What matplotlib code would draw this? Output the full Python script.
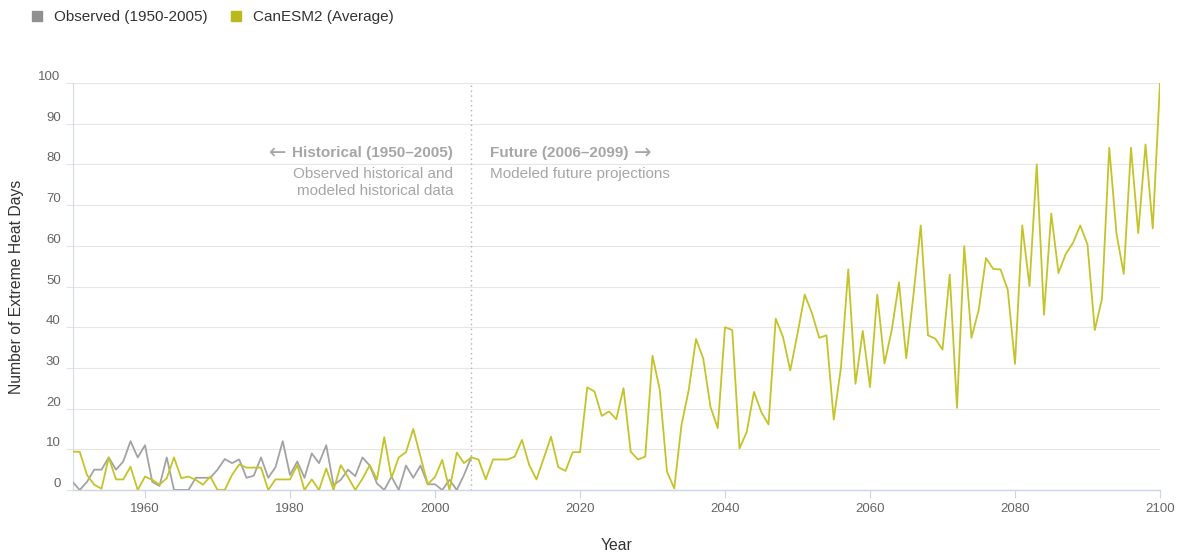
import matplotlib
matplotlib.use('Agg')
import numpy as np
import matplotlib.pyplot as plt
from matplotlib.lines import Line2D

obs_years = np.arange(1950, 2006)
observed = [2, 0, 2, 5, 5, 8, 5, 7, 12, 8,
            11, 2, 1, 8, 0, 0, 0, 3, 3, 3,
            5, 7.6, 6.6, 7.5, 3, 3.5, 8, 3, 5.6, 12,
            3.7, 7, 3, 9, 6.6, 11, 1.2, 2.5, 5, 3.4,
            8, 6, 1.6, 0, 3.3, 0, 6, 3, 6, 1.4,
            1.4, 0, 2.5, 0, 3.7, 8]

model_years = np.arange(1950, 2101)
canesm2 = [9.4, 9.4, 3.7, 1.3, 0.3, 8, 2.6, 2.6, 5.7, 0,
           3.3, 2.5, 1.3, 2.9, 8, 2.9, 3.3, 2.5, 1.3, 3.3,
           0, 0, 3.7, 6.3, 5.5, 5.5, 5.5, 0, 2.6, 2.6,
           2.6, 6.1, 0, 2.6, 0, 5.3, 0, 6.1, 3.2, 0,
           2.8, 6.1, 2.6, 13, 3, 8, 9.3, 15, 8.2, 1.4,
           3.2, 7.4, 0, 9.2, 6.6, 8, 7.5, 2.6, 7.5, 7.5,
           7.5, 8.2, 12.3, 6.1, 2.6, 7.8, 13.1, 5.6, 4.7, 9.3,
           9.3, 25.2, 24.2, 18.2, 19.3, 17.4, 25, 9.4, 7.5, 8.2,
           33, 24.6, 4.5, 0.4, 16, 24.6, 37.1, 32.3, 20.4, 15.2,
           40, 39.3, 10.2, 14.3, 24.1, 19.2, 16.1, 42.1, 37.6, 29.4,
           38.4, 48, 43.4, 37.4, 38, 17.3, 30.2, 54.2, 26.1, 39.1,
           25.3, 48, 31.1, 39.3, 51, 32.4, 48, 65, 38, 37.2,
           34.5, 52.9, 20.2, 59.9, 37.4, 44.3, 57, 54.3, 54.2, 49.2,
           31, 65, 50.1, 80, 43.1, 67.9, 53.3, 58, 60.7, 65,
           60.3, 39.3, 47, 84.1, 63, 53.1, 84.1, 63.1, 84.9, 64.3,
           100]

x_ticks = [1960, 1980, 2000, 2020, 2040, 2060, 2080, 2100]
y_ticks = list(range(0, 101, 10))
split_year = 2005

obs_color = '#a3a3a3'
model_color = '#c4c42a'

plt.rcParams['font.family'] = ['Liberation Sans', 'DejaVu Sans']

fig = plt.figure(figsize=(11.79, 5.56), dpi=100)
ax = fig.add_axes([72.5 / 1179, 1 - 490 / 556, (1160 - 72.5) / 1179, (490 - 83) / 556])

ax.plot(obs_years, observed, color=obs_color, lw=1.3, zorder=3)
ax.plot(model_years, canesm2, color=model_color, lw=1.3, zorder=4)

ax.axvline(split_year, color='#b0b0b0', lw=1, ls=(0, (1, 2.5)), zorder=2)

ax.set_xlim(1950, 2100)
ax.set_ylim(0, 100)
ax.set_xticks(x_ticks)
ax.set_yticks(y_ticks)
ax.grid(axis='y', color='#e6e6e6', lw=0.8, zorder=0)
ax.set_axisbelow(True)

for s in ['top', 'right']:
    ax.spines[s].set_visible(False)
ax.spines['bottom'].set_color('#ccd6eb')
ax.spines['left'].set_color('#d5dbe6')
ax.spines['bottom'].set_linewidth(1)
ax.spines['left'].set_linewidth(0.8)

ax.tick_params(axis='x', colors='#ccd6eb', length=6, width=0.8, pad=3, labelcolor='#666666', labelsize=9.5)
ax.tick_params(axis='y', colors='#e3e3e3', length=5, width=0.8, pad=3.5, labelcolor='#666666', labelsize=9.5)
plt.setp(ax.get_yticklabels(), va='bottom')

ax.set_xlabel('Year', fontsize=11.3, color='#333333')
ax.set_ylabel('Number of Extreme Heat Days', fontsize=11.3, color='#333333')
ax.xaxis.set_label_coords(0.5, -0.118)
ax.yaxis.set_label_coords(-0.045, 0.5)

# notes either side of the split line
note_color = '#a6a6a6'
hist = ax.text(2002.5, 82.8, 'Historical (1950\u20132005)', ha='right', va='center',
               fontsize=11, fontweight='bold', color=note_color)
ax.annotate('\u2190', xy=(0, 0.5), xycoords=hist, xytext=(-4, 0), textcoords='offset points',
            ha='right', va='center', fontsize=15, color=note_color, family='DejaVu Sans')
ax.text(2002.5, 79.4, 'Observed historical and\nmodeled historical data', ha='right', va='top',
        fontsize=11, color=note_color, linespacing=1.28, multialignment='right')
fut = ax.text(2007.6, 82.8, 'Future (2006\u20132099)', ha='left', va='center',
              fontsize=11, fontweight='bold', color=note_color)
ax.annotate('\u2192', xy=(1, 0.5), xycoords=fut, xytext=(4, 0), textcoords='offset points',
            ha='left', va='center', fontsize=15, color=note_color, family='DejaVu Sans')
ax.text(2007.6, 79.4, 'Modeled future projections', ha='left', va='top',
        fontsize=11, color=note_color)

handles = [Line2D([], [], marker='s', ls='none', color='#8f8f8f', markersize=7.2),
           Line2D([], [], marker='s', ls='none', color='#b9b91c', markersize=7.2)]
fig.legend(handles, ['Observed (1950-2005)', 'CanESM2 (Average)'], loc='center left',
           bbox_to_anchor=(16 / 1179, 1 - 17 / 556), ncol=2, frameon=False,
           fontsize=11, handletextpad=0.62, columnspacing=1.3, labelcolor='#333333',
           handlelength=1.0)

fig.savefig('out.png', dpi=100)
